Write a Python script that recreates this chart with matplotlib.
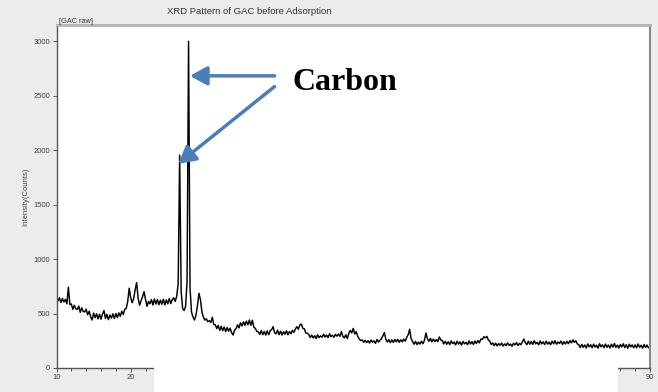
import numpy as np
import matplotlib
matplotlib.use("Agg")
import matplotlib.pyplot as plt
import matplotlib.ticker as mtick
from matplotlib.patches import Rectangle

# Barrido 2θ de 10 a 90 grados, paso 0.2
two_theta = np.round(np.arange(10, 90.01, 0.2), 1)

# Intensidad (cuentas) para cada paso del barrido
counts = [
    652, 614, 645, 601, 638, 607, 631, 589, 742, 582,   # 10
    588, 539, 576, 544, 538, 569, 511, 553, 519, 515,   # 12
    540, 489, 521, 471, 441, 505, 462, 498, 451, 494,   # 14
    448, 496, 527, 455, 493, 444, 486, 459, 497, 454,   # 16
    501, 463, 506, 475, 521, 491, 540, 546, 612, 733,   # 18
    645, 600, 638, 718, 784, 642, 576, 618, 655, 701,   # 20
    630, 566, 611, 590, 628, 578, 634, 587, 628, 581,   # 22
    623, 585, 632, 578, 626, 589, 637, 591, 629, 645,   # 24
    612, 658, 772, 1955, 705, 548, 528, 566, 795, 3000, # 26
    735, 512, 468, 441, 486, 572, 686, 628, 515, 468,   # 28
    440, 452, 425, 435, 418, 466, 399, 398, 362, 391,   # 30
    346, 383, 343, 377, 334, 372, 338, 366, 325, 303,   # 32
    348, 362, 397, 368, 415, 386, 424, 392, 430, 396,   # 34
    441, 392, 438, 375, 363, 336, 332, 308, 344, 305,   # 36
    336, 302, 341, 305, 343, 352, 380, 324, 314, 348,   # 38
    306, 338, 302, 333, 310, 341, 305, 335, 314, 346,   # 40
    327, 358, 379, 356, 395, 404, 364, 360, 322, 319,   # 42
    308, 280, 302, 276, 297, 270, 305, 279, 295, 283,   # 44
    310, 284, 303, 279, 314, 288, 301, 282, 309, 292,   # 46
    312, 291, 334, 290, 276, 305, 270, 318, 345, 322,   # 48
    364, 312, 334, 290, 268, 252, 258, 236, 255, 233,   # 50
    251, 229, 258, 236, 249, 226, 262, 238, 255, 270,   # 52
    296, 325, 262, 238, 261, 232, 259, 235, 262, 240,   # 54
    263, 236, 259, 240, 266, 246, 280, 305, 355, 270,   # 56
    242, 218, 244, 215, 238, 220, 246, 223, 255, 322,   # 58
    268, 245, 272, 240, 266, 243, 261, 242, 285, 258,   # 60
    252, 221, 246, 218, 241, 215, 249, 224, 238, 212,   # 62
    246, 219, 240, 211, 244, 222, 236, 214, 249, 220,   # 64
    243, 216, 248, 225, 252, 231, 266, 262, 288, 276,   # 66
    291, 258, 247, 215, 230, 206, 228, 203, 224, 209,   # 68
    229, 201, 222, 205, 231, 208, 220, 199, 227, 212,   # 70
    233, 206, 226, 214, 240, 266, 232, 214, 246, 218,   # 72
    244, 217, 250, 222, 236, 213, 249, 221, 240, 216,   # 74
    247, 219, 238, 214, 246, 222, 251, 218, 239, 225,   # 76
    248, 216, 242, 220, 245, 223, 252, 231, 258, 236,   # 78
    250, 222, 214, 188, 217, 190, 212, 183, 221, 194,   # 80
    214, 186, 219, 192, 210, 182, 223, 195, 213, 187,   # 82
    220, 190, 212, 184, 218, 192, 225, 189, 211, 183,   # 84
    216, 193, 222, 187, 214, 181, 219, 194, 212, 186,   # 86
    213, 185, 221, 190, 209, 182, 216, 188, 211, 184,   # 88
    198,                                                # 90
]

x_ticks = [10, 20, 30, 40, 50, 60, 70, 80, 90]
x_tick_labels = ["10", "20", "", "", "", "", "", "", "90"]
y_ticks = [0, 500, 1000, 1500, 2000, 2500, 3000]

plt.rcParams["font.family"] = ["Liberation Sans", "DejaVu Sans"]

fig = plt.figure(figsize=(6.58, 3.92), dpi=100)
fig.patch.set_facecolor("#ececec")
ax = fig.add_axes([56.5 / 658, 24 / 392, 593.5 / 658, 343 / 392])
ax.set_facecolor("white")

ax.plot(two_theta, counts, color="black", lw=1.05)

ax.set_xlim(10, 90)
ax.set_ylim(0, 3150)
ax.set_xticks(x_ticks)
ax.set_xticklabels(x_tick_labels)
ax.xaxis.set_minor_locator(mtick.MultipleLocator(2))
ax.set_yticks(y_ticks)
ax.tick_params(axis="both", which="major", labelsize=5.5, labelcolor="#444444",
               color="#555555", length=3, width=0.7, pad=1.5)
ax.tick_params(axis="x", which="minor", color="#555555", length=2, width=0.7)
ax.set_ylabel("Intensity(Counts)", fontsize=5.5, color="#444444", labelpad=3)

for side in ["left", "bottom"]:
    ax.spines[side].set_color("#555555")
    ax.spines[side].set_linewidth(1.0)
ax.spines["top"].set_color("#b4b4b4")
ax.spines["top"].set_linewidth(2.0)
ax.spines["right"].set_color("#8a8a8a")
ax.spines["right"].set_linewidth(1.5)

fig.text(167 / 658, 381 / 392, "XRD Pattern of GAC before Adsorption",
         fontsize=6.8, color="#333333", ha="left", va="center")
fig.text(59 / 658, 370.5 / 392, "[GAC raw]", fontsize=5.3, color="#333333",
         ha="left", va="center")

# Flechas y etiqueta de los picos de carbono
arrow_color = "#4a7ebb"
arrow_kw = dict(arrowstyle="-|>,head_length=0.4,head_width=0.22", color=arrow_color,
                lw=2.5, mutation_scale=26, shrinkA=0, shrinkB=0)
ax.annotate("", xy=(27.98, 2683), xytext=(39.4, 2683), arrowprops=arrow_kw)
ax.annotate("", xy=(26.4, 1875), xytext=(39.4, 2585), arrowprops=arrow_kw)
ax.text(41.85, 2555, "Carbon", fontsize=23, fontweight="bold",
        family=["Liberation Serif", "DejaVu Serif"], color="black",
        ha="left", va="baseline")

# Franja blanca bajo el eje x
fig.add_artist(Rectangle((153.5 / 658, 0), 464 / 658, 25 / 392,
                         transform=fig.transFigure, facecolor="white",
                         edgecolor="none", zorder=10))

fig.savefig("out.png", dpi=100, facecolor=fig.get_facecolor())
